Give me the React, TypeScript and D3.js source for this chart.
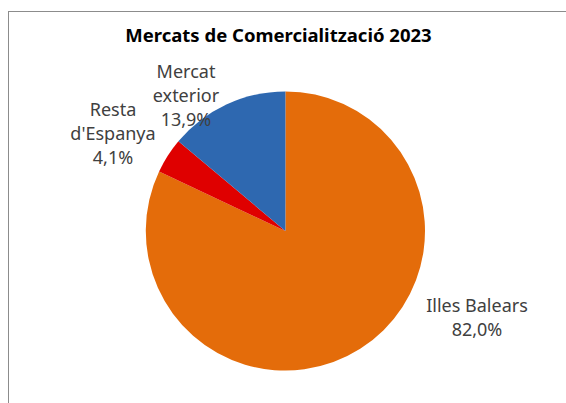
import React from "react";
import * as d3 from "d3";

const categories = ["Illes Balears", "Resta d'Espanya", "Mercat exterior"];
const values = [82.0, 4.1, 13.9];
const labelLines = [["Illes Balears", "82,0%"], ["Resta", "d'Espanya", "4,1%"], ["Mercat", "exterior", "13,9%"]];
const colors = ["#E46C0A", "#DF0000", "#2E68B0"];
const title = "Mercats de Comercialització 2023";

const W = 566, H = 403;
const cx = 285.4, cy = 231, r = 139.6;
// label centers (x, y of first baseline)
const labelPos: [number, number][] = [[477, 312], [113, 116], [186, 78]];

export default function App() {
  const pie = d3.pie<number>().sort(null).value((d) => d)(values);
  const arc = d3.arc<d3.PieArcDatum<number>>().innerRadius(0).outerRadius(r);
  const font = "'Noto Sans', 'Open Sans', sans-serif";
  return (
    <svg width={W} height={H} style={{ position: "absolute", left: 0, top: 0, display: "block" }}>
      <rect x={0} y={0} width={W} height={H} fill="#fff" />
      <rect x={8.5} y={11.5} width={W} height={H} fill="none" stroke="#8c8c8c" strokeWidth={1} />
      <text x={278.5} y={42} textAnchor="middle" fontFamily={font} fontWeight="bold" fontSize={18.5} fill="#000">
        {title}
      </text>
      <g transform={`translate(${cx},${cy})`}>
        {pie.map((p, i) => (
          <path key={categories[i]} d={arc(p) || ""} fill={colors[i]} />
        ))}
      </g>
      {labelLines.map((lines, i) => (
        <text key={i} textAnchor="middle" fontFamily={font} fontSize={18} fill="#404040">
          {lines.map((l, j) => (
            <tspan key={j} x={labelPos[i][0]} y={labelPos[i][1] + j * 24}>{l}</tspan>
          ))}
        </text>
      ))}
    </svg>
  );
}
